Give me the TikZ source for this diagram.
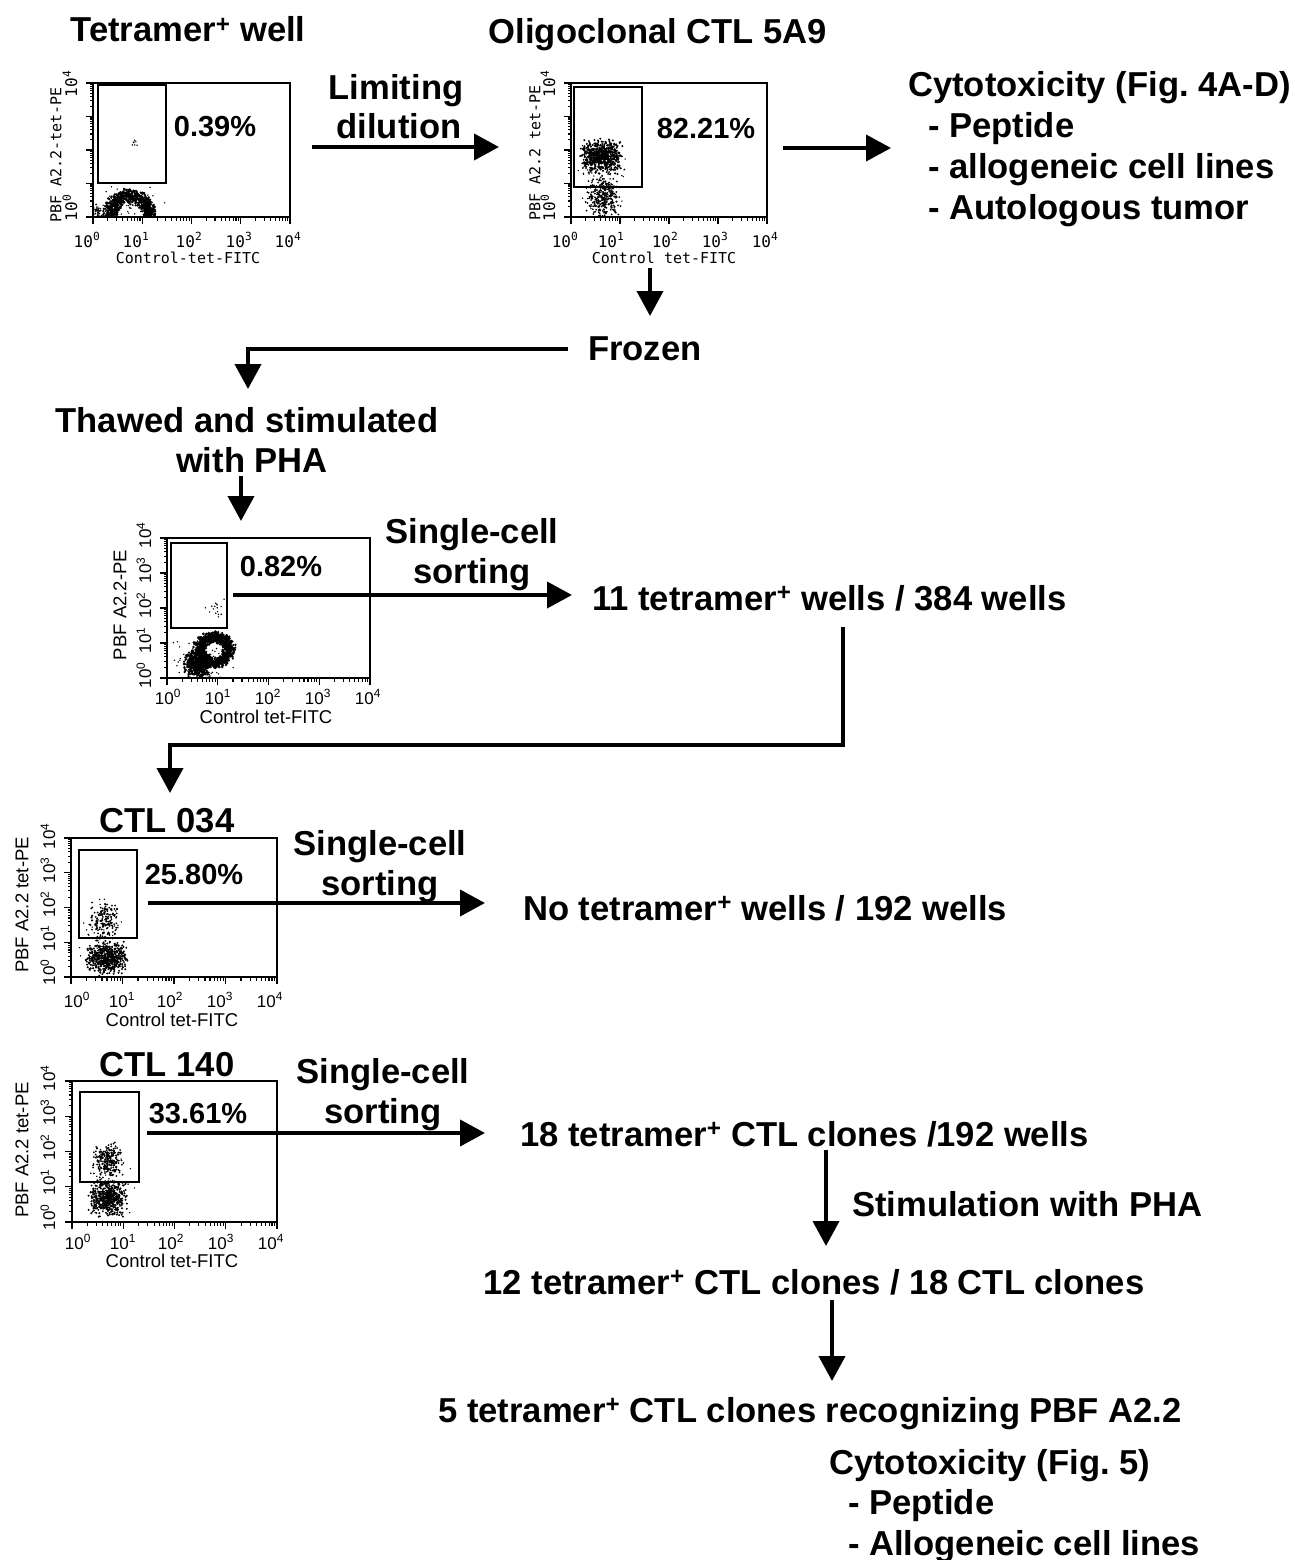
\documentclass[tikz,border=0pt]{standalone}
\usepackage{fontspec}
\setmainfont{Liberation Sans}
\newfontfamily\plotmono{DejaVu Sans Mono}
\usetikzlibrary{arrows.meta}
\tikzset{
 big/.style={font=\fontsize{34.6}{40}\selectfont\bfseries, inner sep=0pt},
 pct/.style={font=\fontsize{29}{34}\selectfont\bfseries, inner sep=0pt},
 arr/.style={line width=4pt, -{Triangle[length=25pt,width=26pt]}},
 frame/.style={line width=1.6pt},
 gate/.style={line width=1.5pt},
 tick/.style={line width=1.1pt},
 ticklab/.style={font=\fontsize{17}{20}\selectfont, inner sep=0pt},
 axlab/.style={font=\fontsize{18.5}{22}\selectfont, inner sep=0pt},
 monotick/.style={font=\plotmono\fontsize{16}{19}\selectfont, inner sep=0pt},
 monolab/.style={font=\plotmono\fontsize{15}{18}\selectfont, inner sep=0pt},
}
% frame with log ticks: L T R B
\newcommand\plotframe[4]{%
  \draw[frame] (#1,#2) rectangle (#3,#4);
  \foreach \d in {0,1,2,3}{%
    \foreach \m/\l in {0/7,0.301/3.5,0.477/3.5,0.602/3.5,0.699/3.5,0.778/3.5,0.845/3.5,0.903/3.5,0.954/3.5}{%
      \draw[tick] ({#1+(\d+\m)*(#3-#1)/4},#4) -- ++(0,\l);
      \draw[tick] (#1,{#4+(\d+\m)*(#2-#4)/4}) -- ++(-\l,0);
    }}
  \draw[tick] (#3,#4) -- ++(0,7);
  \draw[tick] (#1,#2) -- ++(-7,0);
}
% cloud of dots: cx cy rx ry n radius
\newcommand\dotcloud[6]{%
  \foreach \i in {1,...,#5}{%
    \pgfmathsetmacro\px{#1+#3*(rand+rand)/2}%
    \pgfmathsetmacro\py{#2+#4*(rand+rand)/2}%
    \fill (\px,\py) circle (#6);
  }}
% ring of dots: cx cy rx ry n radius spread
\newcommand\dotring[7]{%
  \foreach \i in {1,...,#5}{%
    \pgfmathsetmacro\ang{180*rand}%
    \pgfmathsetmacro\rr{1+#7*(rand+rand)/2}%
    \fill ({#1+#3*\rr*cos(\ang)},{#2+#4*\rr*sin(\ang)}) circle (#6);
  }}
\begin{document}
\begin{tikzpicture}[x=1pt,y=-1pt]
\pgfmathsetseed{4711}
\fill[white] (0,0) rectangle (1295,1560);
\useasboundingbox (0,0) rectangle (1295,1560);

% ---------- Plot 1 ----------
\node[big] (t1) at (188,42) [anchor=base] {Tetramer\textsuperscript{+} well};
\plotframe{93}{83}{290}{217}
\draw[gate] (98,85) rectangle (166,183);
\begin{scope}
  \clip (93,83) rectangle (290,217);
  \dotring{130}{216}{20}{20}{1100}{1.3pt}{0.42}
  \dotcloud{130}{205}{38}{20}{60}{0.8pt}
  \dotcloud{98}{211}{6}{7}{25}{1pt}
  \dotcloud{134}{143}{5}{5}{8}{0.8pt}
\end{scope}
\node[pct] (p1) at (215,127) {0.39\%};
\node[monolab, rotate=90] (y1) at (56,155) {PBF A2.2-tet-PE};
\node[monotick, rotate=90] (y1a) at (70,84) {10\textsuperscript{4}};
\node[monotick, rotate=90] (y1b) at (70,208) {10\textsuperscript{0}};
\foreach \xx/\e in {87/0,136/1,189/2,239/3,288/4}{
  \node[monotick] at (\xx,240) {10\textsuperscript{\e}};}
\node[monolab] (x1) at (188,258) {Control-tet-FITC};

% ---------- arrow 1 ----------
\node[big] (lim1) at (396,100) [anchor=base] {Limiting};
\node[big] (lim2) at (399,139) [anchor=base] {dilution};
\coordinate (a1s) at (312,147);
\coordinate (a1e) at (499,147);
\draw[arr] (a1s) -- (a1e);

% ---------- Plot 2 ----------
\node[big] (t2) at (658,44) [anchor=base] {Oligoclonal CTL 5A9};
\plotframe{571}{83}{767}{217}
\draw[gate] (574,87) rectangle (642,187);
\begin{scope}
  \clip (571,83) rectangle (767,217);
  \dotcloud{601}{157}{22}{19}{650}{1.1pt}
  \dotcloud{603}{198}{18}{22}{300}{1pt}
  \dotcloud{605}{175}{30}{40}{50}{0.8pt}
\end{scope}
\node[pct] (p2) at (706,129) {82.21\%};
\node[monolab, rotate=90] (y2) at (535,153) {PBF A2.2 tet-PE};
\node[monotick, rotate=90] (y2a) at (548,84) {10\textsuperscript{4}};
\node[monotick, rotate=90] (y2b) at (548,208) {10\textsuperscript{0}};
\foreach \xx/\e in {565/0,611/1,665/2,715/3,765/4}{
  \node[monotick] at (\xx,240) {10\textsuperscript{\e}};}
\node[monolab] (x2) at (664,258) {Control tet-FITC};

% ---------- cytotoxicity 1 ----------
\coordinate (a2s) at (783,148);
\coordinate (a2e) at (891,148);
\draw[arr] (a2s) -- (a2e);
\node[big, anchor=base west] (c1) at (908,97) {Cytotoxicity (Fig.\ 4A-D)};
\node[big, anchor=base west] (c2) at (928,138) {- Peptide};
\node[big, anchor=base west] (c3) at (928,178) {- allogeneic cell lines};
\node[big, anchor=base west] (c4) at (928,219) {- Autologous tumor};

% ---------- frozen ----------
\coordinate (a3s) at (650,268);
\coordinate (a3e) at (650,316);
\draw[arr] (a3s) -- (a3e);
\node[big, anchor=base west] (fr) at (588,360) {Frozen};
\coordinate (frc) at (248,349);
\coordinate (fre) at (248,389);
\draw[arr] ([xshift=-20pt]fr.west |- 0,349) -- (frc) -- (fre);

\node[big] (th1) at (247,432) [anchor=base] {Thawed and stimulated};
\node[big] (th2) at (252,472) [anchor=base] {with PHA};
\coordinate (a4s) at (241,476);
\coordinate (a4e) at (241,521);
\draw[arr] (a4s) -- (a4e);

% ---------- Plot 3 ----------
\plotframe{167}{538}{370}{678}
\draw[gate] (171,543) rectangle (227,628);
\begin{scope}
  \clip (167,538) rectangle (370,678);
  \dotring{214}{650}{15}{13}{900}{1.3pt}{0.5}
  \dotcloud{197}{664}{14}{14}{450}{1.2pt}
  \dotcloud{205}{662}{34}{26}{120}{0.8pt}
  \dotcloud{215}{608}{12}{12}{16}{0.8pt}
\end{scope}
\node[pct] (p3) at (281,567) {0.82\%};
\node[axlab, rotate=90] (y3) at (120,605) {PBF A2.2-PE};
\foreach \yy/\e in {675/0,640/1,605/2,570/3,535/4}{
  \node[ticklab, rotate=90] at (144,\yy) {10\textsuperscript{\e}};}
\foreach \xx/\e in {168/0,218/1,268/2,318/3,368/4}{
  \node[ticklab] at (\xx,697) {10\textsuperscript{\e}};}
\node[axlab] (x3) at (266,717) {Control tet-FITC};
\node[big] (s3a) at (472,543) [anchor=base] {Single-cell};
\node[big] (s3b) at (472,583) [anchor=base] {sorting};
\node[big, anchor=base west] (w11) at (592,610) {11 tetramer\textsuperscript{+} wells / 384 wells};
\coordinate (a5s) at (233,595);
\coordinate (a5e) at (572,595);
\draw[arr] (a5s) -- (a5e);

% ---------- connector to CTL 034 ----------
\coordinate (c6a) at (843,627);
\coordinate (c6b) at (843,745);
\coordinate (c6c) at (170,745);
\coordinate (c6d) at (170,793);
\draw[arr] (c6a) -- (c6b) -- (c6c) -- (c6d);

% ---------- Plot 4 ----------
\node[big] (t4) at (167,832) [anchor=base] {CTL 034};
\plotframe{71}{838}{277}{977}
\draw[gate] (79,850) rectangle (137,938);
\begin{scope}
  \clip (71,838) rectangle (277,977);
  \dotcloud{104}{920}{16}{20}{160}{1pt}
  \dotcloud{106}{958}{22}{18}{500}{1.1pt}
  \dotcloud{105}{935}{30}{40}{40}{0.8pt}
\end{scope}
\node[pct] (p4) at (194,875) {25.80\%};
\node[axlab, rotate=90] (y4) at (22,905) {PBF A2.2 tet-PE};
\foreach \yy/\e in {972/0,938/1,904/2,870/3,836/4}{
  \node[ticklab, rotate=90] at (48,\yy) {10\textsuperscript{\e}};}
\foreach \xx/\e in {77/0,122/1,170/2,220/3,270/4}{
  \node[ticklab] at (\xx,1000) {10\textsuperscript{\e}};}
\node[axlab] (x4) at (172,1020) {Control tet-FITC};
\node[big] (s4a) at (380,855) [anchor=base] {Single-cell};
\node[big] (s4b) at (380,895) [anchor=base] {sorting};
\node[big, anchor=base west] (w4) at (523,920) {No tetramer\textsuperscript{+} wells / 192 wells};
\coordinate (a7s) at (148,903);
\coordinate (a7e) at (485,903);
\draw[arr] (a7s) -- (a7e);

% ---------- Plot 5 ----------
\node[big] (t5) at (167,1076) [anchor=base] {CTL 140};
\plotframe{72}{1081}{277}{1222}
\draw[gate] (80,1092) rectangle (139,1182);
\begin{scope}
  \clip (72,1081) rectangle (277,1222);
  \dotcloud{108}{1160}{16}{18}{250}{1pt}
  \dotcloud{108}{1198}{20}{20}{500}{1.1pt}
  \dotcloud{108}{1180}{28}{40}{40}{0.8pt}
\end{scope}
\node[pct] (p5) at (198,1114) {33.61\%};
\node[axlab, rotate=90] (y5) at (22,1150) {PBF A2.2 tet-PE};
\foreach \yy/\e in {1217/0,1182/1,1147/2,1112/3,1078/4}{
  \node[ticklab, rotate=90] at (48,\yy) {10\textsuperscript{\e}};}
\foreach \xx/\e in {78/0,123/1,171/2,221/3,271/4}{
  \node[ticklab] at (\xx,1242) {10\textsuperscript{\e}};}
\node[axlab] (x5) at (172,1261) {Control tet-FITC};
\node[big] (s5a) at (383,1083) [anchor=base] {Single-cell};
\node[big] (s5b) at (383,1123) [anchor=base] {sorting};
\node[big, anchor=base west] (w5) at (520,1146) {18 tetramer\textsuperscript{+} CTL clones /192 wells};
\coordinate (a8s) at (147,1133);
\coordinate (a8e) at (485,1133);
\draw[arr] (a8s) -- (a8e);

% ---------- lower chain ----------
\coordinate (a9s) at (826,1150);
\coordinate (a9e) at (826,1246);
\draw[arr] (a9s) -- (a9e);
\node[big, anchor=base west] (stim) at (852,1216) {Stimulation with PHA};
\node[big] (w12) at (814,1294) [anchor=base] {12 tetramer\textsuperscript{+} CTL clones / 18 CTL clones};
\coordinate (a10s) at (832,1300);
\coordinate (a10e) at (832,1381);
\draw[arr] (a10s) -- (a10e);
\node[big] (w5r) at (810,1422) [anchor=base] {5 tetramer\textsuperscript{+} CTL clones recognizing PBF A2.2};
\node[big, anchor=base west] (cy1) at (829,1474) {Cytotoxicity (Fig.\ 5)};
\node[big, anchor=base west] (cy2) at (848,1514) {- Peptide};
\node[big, anchor=base west] (cy3) at (848,1555) {- Allogeneic cell lines};
\end{tikzpicture}
\end{document}
